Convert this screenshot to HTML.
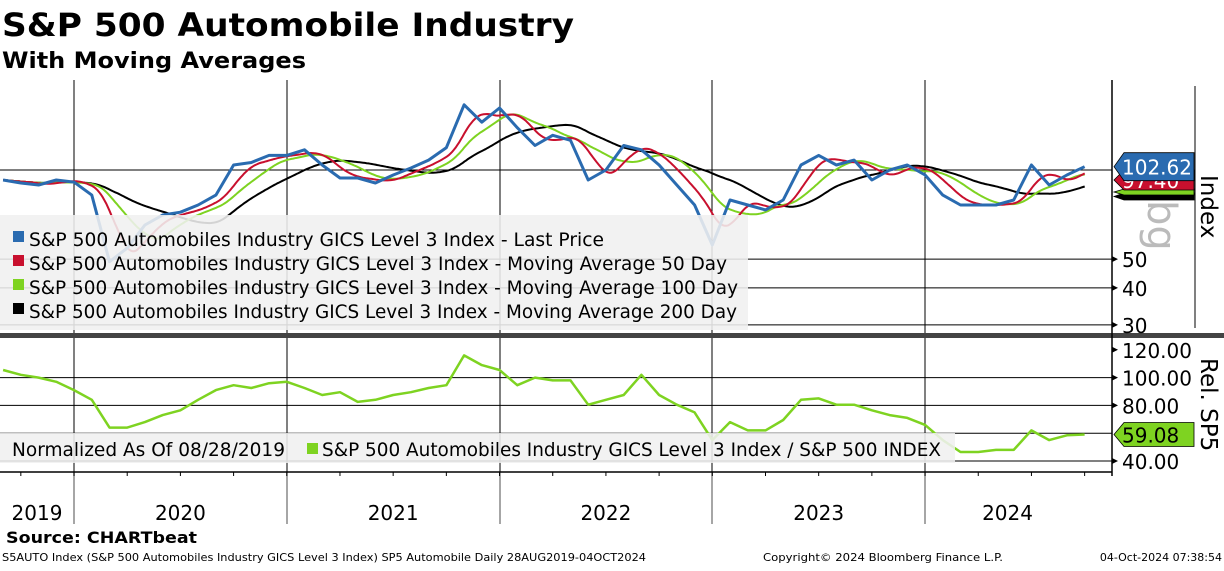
<!DOCTYPE html>
<html><head><meta charset="utf-8">
<style>
body{margin:0;background:#fff;width:1224px;height:566px;overflow:hidden;font-family:"Liberation Sans","DejaVu Sans",sans-serif}
svg text{font-family:"DejaVu Sans","Liberation Sans",sans-serif}
</style></head><body>
<svg id="c" width="1224" height="566" xmlns="http://www.w3.org/2000/svg">
<text x="2" y="36" font-size="32" font-weight="bold" fill="#000" textLength="572" lengthAdjust="spacingAndGlyphs">S&amp;P 500 Automobile Industry</text>
<text x="2" y="68" font-size="22" font-weight="bold" fill="#000" textLength="304" lengthAdjust="spacingAndGlyphs">With Moving Averages</text>
<g id="grid"></g>
<g id="lines"></g>
<g id="axes"></g>
</svg>
<script>
// Monthly samples starting Sep 2019 (last = Oct 2024)
const priceValues=[92.5,90.4,89,92.5,91,82.3,49,54.5,65.2,70.5,72,76.2,82.3,104,106,112,112,117,104,94,94,90.4,96.2,101.6,108,119,166,145,162,139,121,131,126,92.5,100,121,117,104,89,76.2,55.8,79.2,76.2,73.3,79.2,104,112,104,108,92.5,100,104,96.2,82.3,76.2,76.2,76.2,79.2,104,89,96.2,102.62];
const relValues=[105.5,102,100,97,91,84,64,64,68,73,76.5,84,91,94.5,92.5,96,97,92.5,87.5,89.5,82.5,84,87.5,89.5,92.5,94.5,116,109,105.5,94.5,100,98,98,80.5,84,87.5,102,87.5,80.5,75,55,68,62,62,69.5,84,85,80.5,80.5,76.5,73,71,66,55,46.5,46.5,48,48,62,55,58.5,59.08];
const yearLabels=["2019","2020","2021","2022","2023","2024"];
const topTicks=[30,40,50,100];
const topTickLabels=["30","40","50"];
const relTicks=[40,60,80,100,120];
const relTickLabels=["40.00","80.00","100.00","120.00"];
const ma50Days=50, ma100Days=100, ma200Days=200;

const NS="http://www.w3.org/2000/svg";
function el(tag,attrs,parent,text){const e=document.createElementNS(NS,tag);for(const k in attrs)e.setAttribute(k,attrs[k]);if(text!==undefined)e.textContent=text;parent.appendChild(e);return e;}
const grid=document.getElementById('grid'),lines=document.getElementById('lines'),axes=document.getElementById('axes');
const PX_PER_MONTH=17.73, X0=3.1;
const xM=i=>X0+i*PX_PER_MONTH;
const yTop=v=>170-128.6*Math.log(v/100);
const yRel=v=>461-(v-40)*1.39;
const xRight=1112;

for(let yr=2020;yr<=2024;yr++){const x=Math.round(xM((yr-2019)*12-8));
 const l=el('line',{x1:x,x2:x,y1:80,y2:472,stroke:'#000','stroke-width':1},grid);
 
 const d=el('line',{x1:x,x2:x,y1:472,y2:524,stroke:'#888','stroke-width':1.5},grid);
 }
topTicks.forEach(v=>{const y=yTop(v);const l=el('line',{x1:0,x2:xRight,y1:y,y2:y,stroke:'#000','stroke-width':1},grid);
 });
relTicks.forEach(v=>{if(v===120)return;const y=yRel(v);const l=el('line',{x1:0,x2:xRight,y1:y,y2:y,stroke:'#000','stroke-width':1},grid);
 });

const DPM=30.44;
const nDays=Math.round((priceValues.length-1)*DPM);
const daily=[];for(let d=0;d<=nDays;d++){const f=d/DPM,i=Math.min(Math.floor(f),priceValues.length-2),t=f-i;daily.push(priceValues[i]*(1-t)+priceValues[i+1]*t);}
function ma(n){const out=[];for(let d=0;d<daily.length;d++){const s=Math.max(0,d-n+1);let sum=0;for(let k=s;k<=d;k++)sum+=daily[k];out.push(sum/(d-s+1));}return out;}
function pathDaily(arr){let p='';for(let d=0;d<arr.length;d+=3){p+=(d?'L':'M')+(X0+d/DPM*PX_PER_MONTH).toFixed(1)+','+yTop(arr[d]).toFixed(1);}return p;}
const ma200=ma(ma200Days),ma100=ma(ma100Days),ma50=ma(ma50Days);
let p;
p=el('path',{d:pathDaily(ma200),fill:'none',stroke:'#000','stroke-width':2},lines);
p=el('path',{d:pathDaily(ma100),fill:'none',stroke:'#7ed321','stroke-width':2},lines);
p=el('path',{d:pathDaily(ma50),fill:'none',stroke:'#c8102e','stroke-width':2},lines);
p=el('path',{d:priceValues.map((v,i)=>(i?'L':'M')+xM(i).toFixed(1)+','+yTop(v).toFixed(1)).join(''),fill:'none',stroke:'#2a6bb0','stroke-width':3,'stroke-linejoin':'round'},lines);

p=el('path',{d:relValues.map((v,i)=>(i?'L':'M')+xM(i).toFixed(1)+','+yRel(v).toFixed(1)).join(''),fill:'none',stroke:'#7ed321','stroke-width':2.5,'stroke-linejoin':'round'},lines);


let r=el('rect',{x:0,y:215,width:748,height:115,fill:'rgba(240,240,240,0.88)'},axes);
const legItems=[['#2a6bb0','Last Price',575],['#c8102e','Moving Average 50 Day',698],['#7ed321','Moving Average 100 Day',709],['#000','Moving Average 200 Day',708]];
legItems.forEach((it,i)=>{const y=239+i*24;
 const s=el('rect',{x:13,y:y-8,width:11,height:11,fill:it[0]},axes);
 const t=el('text',{x:29,y:y+7,'font-size':19,fill:'#000',textLength:it[2],lengthAdjust:'spacingAndGlyphs'},axes,'S&P 500 Automobiles Industry GICS Level 3 Index - '+it[1]);
 });
r=el('rect',{x:0,y:433,width:955,height:30,fill:'rgba(240,240,240,0.88)'},axes);
let t=el('text',{x:12,y:456,'font-size':19,fill:'#000',textLength:273,lengthAdjust:'spacingAndGlyphs'},axes,'Normalized As Of 08/28/2019');
let s=el('rect',{x:307,y:443,width:11,height:11,fill:'#7ed321'},axes);
t=el('text',{x:322,y:456,'font-size':19,fill:'#000',textLength:619,lengthAdjust:'spacingAndGlyphs'},axes,'S&P 500 Automobiles Industry GICS Level 3 Index / S&P 500 INDEX');

r=el('rect',{x:0,y:333,width:1224,height:5,fill:'#444'},axes);
let l=el('line',{x1:xRight,x2:xRight,y1:80,y2:476,stroke:'#000','stroke-width':1.5},axes);
l=el('line',{x1:1195,x2:1195,y1:86,y2:328,stroke:'#000','stroke-width':1},axes);
l=el('line',{x1:0,x2:xRight,y1:472,y2:472,stroke:'#000','stroke-width':1.5},axes);
for(let i=0;i<priceValues.length;i+=3){const x=xM(i+1);const k=el('line',{x1:x,x2:x,y1:472,y2:476,stroke:'#000'},axes);}
yearLabels.forEach((y,i)=>{const xs=i===0?0:xM((i-1)*12+4);const xe=i===yearLabels.length-1?1090:xM(i*12+4);
 const tt=el('text',{x:i===0?37:(xs+xe)/2,y:520,'font-size':20,'text-anchor':'middle',fill:'#000'},axes,y);
 });
topTickLabels.forEach((lab,i)=>{const y=yTop(topTicks[i]);const tt=el('text',{x:1122,y:y+8,'font-size':20,fill:'#000'},axes,lab);
 const a=el('path',{d:`M${xRight},${y-3}L${xRight+6},${y}L${xRight},${y+3}Z`,fill:'#000'},axes);});
[40,80,100,120].forEach((v,i)=>{const y=yRel(v);const tt=el('text',{x:1122,y:y+8,'font-size':20,fill:'#000'},axes,relTickLabels[i]);
 const a=el('path',{d:`M${xRight},${y-3}L${xRight+6},${y}L${xRight},${y+3}Z`,fill:'#000'},axes);});
t=el('text',{x:0,y:0,'font-size':23,fill:'#000',transform:'translate(1201,175) rotate(90)'},axes,'Index');
t=el('text',{x:0,y:0,'font-size':23,fill:'#000',transform:'translate(1201,358) rotate(90)'},axes,'Rel. SP5');
t=el('text',{x:0,y:0,'font-size':40,fill:'#bbb',transform:'translate(1148,200) rotate(90)'},axes,'bg');
function tag(y0,h,color,txt,txtColor,name){const g=el('path',{d:`M1114,${y0+h/2}L1124,${y0}L1194,${y0}L1194,${y0+h}L1124,${y0+h}Z`,fill:color,stroke:'#000','stroke-width':0.8},axes);
 
 if(txt){const tt=el('text',{x:1122,y:y0+h/2+8,'font-size':20,fill:txtColor},axes,txt);}}
const last=ma200.length-1;
tag(193,7,'#000','','ma-200-tag');
tag(189,6,'#7ed321','','ma-100-tag');
tag(170,20,'#c8102e',ma50[last].toFixed(2),'#fff','ma-50-tag');
tag(yTop(priceValues[priceValues.length-1])-14,28,'#2a6bb0',priceValues[priceValues.length-1].toFixed(2),'#fff','last-price-tag');
tag(yRel(relValues[relValues.length-1])-12,24,'#7ed321',relValues[relValues.length-1].toFixed(2),'#000','rel-value-tag');
t=el('text',{x:6,y:543,'font-size':16,'font-weight':'bold',fill:'#000',textLength:191,lengthAdjust:'spacingAndGlyphs'},axes,'Source:  CHARTbeat');
t=el('text',{x:2,y:561,'font-size':11,fill:'#000',textLength:644,lengthAdjust:'spacingAndGlyphs'},axes,'S5AUTO Index (S&P 500 Automobiles Industry GICS Level 3 Index) SP5 Automobile  Daily 28AUG2019-04OCT2024');
t=el('text',{x:763,y:561,'font-size':11,fill:'#000',textLength:240,lengthAdjust:'spacingAndGlyphs'},axes,'Copyright© 2024 Bloomberg Finance L.P.');
t=el('text',{x:1222,y:561,'font-size':11,'text-anchor':'end',fill:'#000'},axes,'04-Oct-2024 07:38:54');
</script>
</body></html>
